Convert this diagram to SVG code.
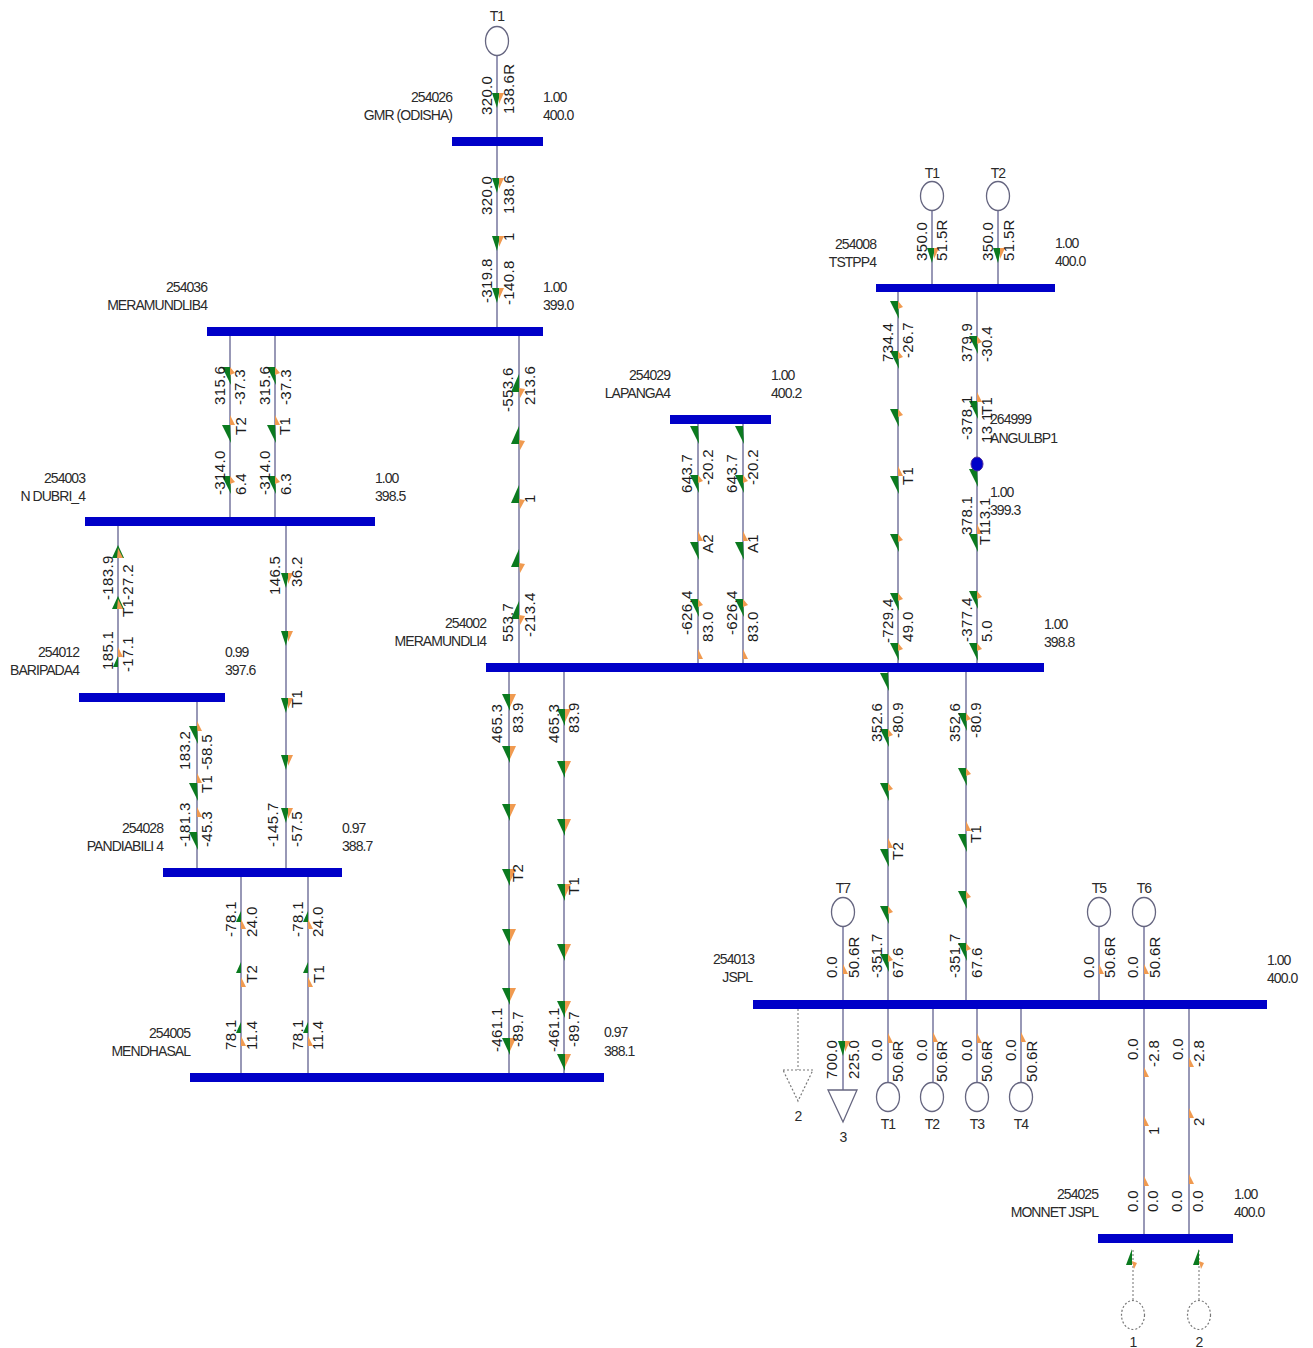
<svg xmlns="http://www.w3.org/2000/svg" xmlns:xlink="http://www.w3.org/1999/xlink" width="1313" height="1348" viewBox="0 0 1313 1348">
<style>
text{font-family:"Liberation Sans",Arial,sans-serif;fill:#2a2a2a}
.l{font-size:14px;letter-spacing:-.95px}
.e{text-anchor:end}
.m{text-anchor:middle}
.v{font-size:15px;letter-spacing:.35px;fill:#1c1c1c}
.bus{fill:#0000c8}
.ln{stroke:#77779f;stroke-width:1.5;fill:none}
.dot{stroke:#888;stroke-width:1.2;stroke-dasharray:2 2;fill:none}
.gen{fill:#fff;stroke:#666680;stroke-width:1.3}
.gd{fill:#fff;stroke:#777;stroke-width:1.2;stroke-dasharray:2 2}
.g{fill:#0b7a1f}
.o{fill:#f09a50}
</style>
<defs>
<g id="d"><path class="g" d="M-8,-9L0,-9L1,9z"/><path class="o" d="M0,-9L5,-3L0,-1z"/></g>
<g id="dl"><path class="g" d="M-8,-9L0,-9L1,9z"/></g>
<g id="u"><path class="g" d="M-8,9L0,9L0,-9z"/><path class="o" d="M0,5L6,6L1,15z"/></g>
<g id="c"><path class="g" d="M-5,-7L3,-7L0,8z"/><path class="o" d="M2,-7L7,-7L2,4z"/></g>
<g id="b"><path class="g" d="M-7,-9L1,-9L1,8z"/><path class="o" d="M1,-9L7,-9L1,4z"/></g>
<g id="cu"><path class="g" d="M-6,6L0,-7L6,6z"/><path class="o" d="M0,-4L5,6L-1,6z"/></g>
<g id="s"><path class="g" d="M-5,5L0,-6L0,5z"/></g>
<g id="o"><path class="o" d="M0,-6L5,4L0,4z"/></g>
<g id="mu"><path class="g" d="M-6,8L0,-8L0,8z"/><path class="o" d="M0,4L5,6L2,12z"/></g>
</defs>
<rect width="1313" height="1348" fill="#fff"/>
<g id="connectors">
<path class="ln" d="M497,55V327M230,336V517M275,336V517M519,336V663M118,526V693M286,526V868M197,702V868M241,877V1073M308,877V1073M509,672V1073M564,672V1073M698,424V663M743,424V663M898,292V663M977,292V663M888,672V1000M966,672V1000M932,211V284M998,211V284M843,926V1000M1099,926V1000M1144,926V1000M843,1009V1090M888,1009V1082M933,1009V1082M977,1009V1082M1021,1009V1082M1144,1009V1234M1189,1009V1234"/>
<path class="dot" d="M798,1009V1070M1133,1250V1301M1199,1250V1301"/>
<g id="flow-marks">
<use href="#c" x="497" y="100"/><use href="#c" x="497" y="185"/><use href="#c" x="497" y="243"/><use href="#c" x="497" y="295"/>
<use href="#c" x="932" y="255"/><use href="#c" x="998" y="255"/>
<use href="#d" x="230" y="376"/><use href="#o" x="230" y="421"/><use href="#dl" x="230" y="434"/><use href="#d" x="230" y="485"/>
<use href="#d" x="275" y="376"/><use href="#o" x="275" y="421"/><use href="#dl" x="275" y="434"/><use href="#d" x="275" y="485"/>
<use href="#cu" x="118" y="552"/><use href="#cu" x="118" y="603"/><use href="#o" x="118" y="653"/><use href="#s" x="118" y="662"/>
<use href="#c" x="286" y="580"/><use href="#c" x="286" y="638"/><use href="#c" x="286" y="705"/><use href="#c" x="286" y="762"/><use href="#c" x="286" y="815"/>
<use href="#o" x="197" y="727"/><use href="#dl" x="197" y="735"/><use href="#o" x="197" y="779"/><use href="#dl" x="197" y="792"/><use href="#o" x="197" y="813"/><use href="#dl" x="197" y="841"/>
<use href="#s" x="241" y="917"/><use href="#o" x="241" y="925"/><use href="#s" x="241" y="968"/><use href="#o" x="241" y="983"/><use href="#s" x="241" y="1028"/><use href="#o" x="241" y="1042"/>
<use href="#s" x="308" y="917"/><use href="#o" x="308" y="925"/><use href="#s" x="308" y="968"/><use href="#o" x="308" y="983"/><use href="#s" x="308" y="1028"/><use href="#o" x="308" y="1042"/>
<use href="#u" x="519" y="383"/><use href="#u" x="519" y="435"/><use href="#u" x="519" y="494"/><use href="#u" x="519" y="558"/><use href="#u" x="519" y="610"/>
<use href="#dl" x="698" y="435"/><use href="#d" x="698" y="484"/><use href="#o" x="698" y="537"/><use href="#dl" x="698" y="551"/><use href="#d" x="698" y="608"/><use href="#o" x="698" y="655"/>
<use href="#dl" x="743" y="435"/><use href="#d" x="743" y="484"/><use href="#o" x="743" y="537"/><use href="#dl" x="743" y="551"/><use href="#d" x="743" y="608"/><use href="#o" x="743" y="655"/>
<use href="#d" x="898" y="310"/><use href="#d" x="898" y="360"/><use href="#d" x="898" y="418"/><use href="#o" x="898" y="472"/><use href="#dl" x="898" y="485"/><use href="#d" x="898" y="543"/><use href="#d" x="898" y="602"/><use href="#d" x="898" y="652"/>
<use href="#d" x="977" y="345"/><use href="#o" x="977" y="398"/><use href="#dl" x="977" y="410"/><use href="#dl" x="977" y="478"/><use href="#o" x="977" y="530"/><use href="#dl" x="977" y="543"/><use href="#d" x="977" y="600"/><use href="#d" x="977" y="652"/>
<use href="#b" x="509" y="703"/><use href="#b" x="509" y="755"/><use href="#b" x="509" y="813"/><use href="#b" x="509" y="878"/><use href="#b" x="509" y="938"/><use href="#b" x="509" y="997"/><use href="#b" x="509" y="1047"/>
<use href="#b" x="564" y="718"/><use href="#b" x="564" y="770"/><use href="#b" x="564" y="828"/><use href="#b" x="564" y="893"/><use href="#b" x="564" y="953"/><use href="#b" x="564" y="1010"/><use href="#b" x="564" y="1063"/>
<use href="#dl" x="888" y="682"/><use href="#d" x="888" y="738"/><use href="#d" x="888" y="792"/><use href="#o" x="888" y="844"/><use href="#dl" x="888" y="858"/><use href="#d" x="888" y="915"/><use href="#d" x="888" y="963"/>
<use href="#d" x="966" y="722"/><use href="#d" x="966" y="777"/><use href="#o" x="966" y="827"/><use href="#dl" x="966" y="843"/><use href="#d" x="966" y="900"/><use href="#d" x="966" y="952"/>
<use href="#o" x="843" y="970"/><use href="#o" x="1099" y="970"/><use href="#o" x="1144" y="970"/>
<use href="#c" x="843" y="1048"/><use href="#o" x="888" y="1039"/><use href="#o" x="933" y="1038"/><use href="#o" x="977" y="1039"/><use href="#o" x="1021" y="1038"/>
<use href="#o" x="1144" y="1073"/><use href="#o" x="1144" y="1122"/><use href="#o" x="1144" y="1182"/><use href="#o" x="1189" y="1063"/><use href="#o" x="1189" y="1114"/><use href="#o" x="1189" y="1180"/>
<use href="#mu" x="1132" y="1257"/><use href="#mu" x="1199" y="1257"/>
</g>
<g id="flow-values">
<text class="v" transform="translate(492,115) rotate(-90)">320.0</text><text class="v" transform="translate(514,114) rotate(-90)">138.6R</text>
<text class="v" transform="translate(492,215) rotate(-90)">320.0</text><text class="v" transform="translate(514,214) rotate(-90)">138.6</text><text class="v" transform="translate(514,241) rotate(-90)">1</text>
<text class="v" transform="translate(492,303) rotate(-90)">-319.8</text><text class="v" transform="translate(514,305) rotate(-90)">-140.8</text>
<text class="v" transform="translate(225,405) rotate(-90)">315.6</text><text class="v" transform="translate(245,405) rotate(-90)">-37.3</text><text class="v" transform="translate(246,435) rotate(-90)">T2</text><text class="v" transform="translate(225,495) rotate(-90)">-314.0</text><text class="v" transform="translate(246,495) rotate(-90)">6.4</text>
<text class="v" transform="translate(270,405) rotate(-90)">315.6</text><text class="v" transform="translate(291,405) rotate(-90)">-37.3</text><text class="v" transform="translate(290,435) rotate(-90)">T1</text><text class="v" transform="translate(270,495) rotate(-90)">-314.0</text><text class="v" transform="translate(291,495) rotate(-90)">6.3</text>
<text class="v" transform="translate(113,600) rotate(-90)">-183.9</text><text class="v" transform="translate(133,600) rotate(-90)">-27.2</text><text class="v" transform="translate(133,617) rotate(-90)">T1</text><text class="v" transform="translate(113,670) rotate(-90)">185.1</text><text class="v" transform="translate(133,672) rotate(-90)">-17.1</text>
<text class="v" transform="translate(280,595) rotate(-90)">146.5</text><text class="v" transform="translate(302,587) rotate(-90)">36.2</text><text class="v" transform="translate(302,708) rotate(-90)">T1</text><text class="v" transform="translate(278,847) rotate(-90)">-145.7</text><text class="v" transform="translate(302,847) rotate(-90)">-57.5</text>
<text class="v" transform="translate(190,770) rotate(-90)">183.2</text><text class="v" transform="translate(212,770) rotate(-90)">-58.5</text><text class="v" transform="translate(212,793) rotate(-90)">T1</text><text class="v" transform="translate(190,847) rotate(-90)">-181.3</text><text class="v" transform="translate(212,847) rotate(-90)">-45.3</text>
<text class="v" transform="translate(236,937) rotate(-90)">-78.1</text><text class="v" transform="translate(257,937) rotate(-90)">24.0</text><text class="v" transform="translate(257,983) rotate(-90)">T2</text><text class="v" transform="translate(236,1050) rotate(-90)">78.1</text><text class="v" transform="translate(257,1050) rotate(-90)">11.4</text>
<text class="v" transform="translate(303,937) rotate(-90)">-78.1</text><text class="v" transform="translate(323,937) rotate(-90)">24.0</text><text class="v" transform="translate(324,983) rotate(-90)">T1</text><text class="v" transform="translate(303,1050) rotate(-90)">78.1</text><text class="v" transform="translate(323,1050) rotate(-90)">11.4</text>
<text class="v" transform="translate(513,412) rotate(-90)">-553.6</text><text class="v" transform="translate(535,405) rotate(-90)">213.6</text><text class="v" transform="translate(535,503) rotate(-90)">1</text><text class="v" transform="translate(513,642) rotate(-90)">553.7</text><text class="v" transform="translate(535,637) rotate(-90)">-213.4</text>
<text class="v" transform="translate(692,493) rotate(-90)">643.7</text><text class="v" transform="translate(713,485) rotate(-90)">-20.2</text><text class="v" transform="translate(713,553) rotate(-90)">A2</text><text class="v" transform="translate(692,635) rotate(-90)">-626.4</text><text class="v" transform="translate(713,642) rotate(-90)">83.0</text>
<text class="v" transform="translate(737,493) rotate(-90)">643.7</text><text class="v" transform="translate(758,485) rotate(-90)">-20.2</text><text class="v" transform="translate(758,553) rotate(-90)">A1</text><text class="v" transform="translate(737,635) rotate(-90)">-626.4</text><text class="v" transform="translate(758,642) rotate(-90)">83.0</text>
<text class="v" transform="translate(502,743) rotate(-90)">465.3</text><text class="v" transform="translate(523,733) rotate(-90)">83.9</text><text class="v" transform="translate(523,882) rotate(-90)">T2</text><text class="v" transform="translate(502,1052) rotate(-90)">-461.1</text><text class="v" transform="translate(523,1047) rotate(-90)">-89.7</text>
<text class="v" transform="translate(559,743) rotate(-90)">465.3</text><text class="v" transform="translate(579,733) rotate(-90)">83.9</text><text class="v" transform="translate(579,895) rotate(-90)">T1</text><text class="v" transform="translate(559,1052) rotate(-90)">-461.1</text><text class="v" transform="translate(579,1047) rotate(-90)">-89.7</text>
<text class="v" transform="translate(893,362) rotate(-90)">734.4</text><text class="v" transform="translate(913,358) rotate(-90)">-26.7</text><text class="v" transform="translate(913,485) rotate(-90)">T1</text><text class="v" transform="translate(893,643) rotate(-90)">-729.4</text><text class="v" transform="translate(913,642) rotate(-90)">49.0</text>
<text class="v" transform="translate(972,362) rotate(-90)">379.9</text><text class="v" transform="translate(992,362) rotate(-90)">-30.4</text><text class="v" transform="translate(992,415) rotate(-90)">T1</text><text class="v" transform="translate(972,440) rotate(-90)">-378.1</text><text class="v" transform="translate(992,443) rotate(-90)">13.1</text>
<text class="v" transform="translate(972,535) rotate(-90)">378.1</text><text class="v" transform="translate(990,528) rotate(-90)">13.1</text><text class="v" transform="translate(990,545) rotate(-90)">T1</text><text class="v" transform="translate(972,642) rotate(-90)">-377.4</text><text class="v" transform="translate(992,642) rotate(-90)">5.0</text>
<text class="v" transform="translate(882,742) rotate(-90)">352.6</text><text class="v" transform="translate(903,738) rotate(-90)">-80.9</text><text class="v" transform="translate(903,860) rotate(-90)">T2</text><text class="v" transform="translate(882,978) rotate(-90)">-351.7</text><text class="v" transform="translate(903,978) rotate(-90)">67.6</text>
<text class="v" transform="translate(960,742) rotate(-90)">352.6</text><text class="v" transform="translate(981,738) rotate(-90)">-80.9</text><text class="v" transform="translate(981,843) rotate(-90)">T1</text><text class="v" transform="translate(960,978) rotate(-90)">-351.7</text><text class="v" transform="translate(982,978) rotate(-90)">67.6</text>
<text class="v" transform="translate(837,978) rotate(-90)">0.0</text><text class="v" transform="translate(859,978) rotate(-90)">50.6R</text><text class="v" transform="translate(837,1079) rotate(-90)">700.0</text><text class="v" transform="translate(859,1079) rotate(-90)">225.0</text>
<text class="v" transform="translate(882,1061) rotate(-90)">0.0</text><text class="v" transform="translate(903,1082) rotate(-90)">50.6R</text>
<text class="v" transform="translate(927,1061) rotate(-90)">0.0</text><text class="v" transform="translate(947,1082) rotate(-90)">50.6R</text>
<text class="v" transform="translate(972,1061) rotate(-90)">0.0</text><text class="v" transform="translate(992,1082) rotate(-90)">50.6R</text>
<text class="v" transform="translate(1016,1061) rotate(-90)">0.0</text><text class="v" transform="translate(1037,1082) rotate(-90)">50.6R</text>
<text class="v" transform="translate(1094,978) rotate(-90)">0.0</text><text class="v" transform="translate(1115,978) rotate(-90)">50.6R</text>
<text class="v" transform="translate(1138,978) rotate(-90)">0.0</text><text class="v" transform="translate(1160,978) rotate(-90)">50.6R</text>
<text class="v" transform="translate(1138,1060) rotate(-90)">0.0</text><text class="v" transform="translate(1159,1067) rotate(-90)">-2.8</text><text class="v" transform="translate(1159,1135) rotate(-90)">1</text>
<text class="v" transform="translate(1183,1060) rotate(-90)">0.0</text><text class="v" transform="translate(1204,1067) rotate(-90)">-2.8</text><text class="v" transform="translate(1204,1126) rotate(-90)">2</text>
<text class="v" transform="translate(1138,1212) rotate(-90)">0.0</text><text class="v" transform="translate(1158,1212) rotate(-90)">0.0</text><text class="v" transform="translate(1182,1212) rotate(-90)">0.0</text><text class="v" transform="translate(1203,1212) rotate(-90)">0.0</text>
<text class="v" transform="translate(927,261) rotate(-90)">350.0</text><text class="v" transform="translate(947,261) rotate(-90)">51.5R</text><text class="v" transform="translate(993,261) rotate(-90)">350.0</text><text class="v" transform="translate(1014,261) rotate(-90)">51.5R</text>
</g>
</g>
<g id="bus-254026"><rect class="bus" x="452" y="137" width="91" height="9"/><text class="l e" x="452" y="102">254026</text><text class="l e" x="452" y="120">GMR (ODISHA)</text><text class="l" x="543" y="102">1.00</text><text class="l" x="543" y="120">400.0</text></g>
<g id="bus-254036"><rect class="bus" x="207" y="327" width="336" height="9"/><text class="l e" x="207" y="292">254036</text><text class="l e" x="207" y="310">MERAMUNDLIB4</text><text class="l" x="543" y="292">1.00</text><text class="l" x="543" y="310">399.0</text></g>
<g id="bus-254003"><rect class="bus" x="85" y="517" width="290" height="9"/><text class="l e" x="85" y="483">254003</text><text class="l e" x="85" y="501">N DUBRI_4</text><text class="l" x="375" y="483">1.00</text><text class="l" x="375" y="501">398.5</text></g>
<g id="bus-254012"><rect class="bus" x="79" y="693" width="146" height="9"/><text class="l e" x="79" y="657">254012</text><text class="l e" x="79" y="675">BARIPADA4</text><text class="l" x="225" y="657">0.99</text><text class="l" x="225" y="675">397.6</text></g>
<g id="bus-254028"><rect class="bus" x="163" y="868" width="179" height="9"/><text class="l e" x="163" y="833">254028</text><text class="l e" x="163" y="851">PANDIABILI 4</text><text class="l" x="342" y="833">0.97</text><text class="l" x="342" y="851">388.7</text></g>
<g id="bus-254005"><rect class="bus" x="190" y="1073" width="414" height="9"/><text class="l e" x="190" y="1038">254005</text><text class="l e" x="190" y="1056">MENDHASAL</text><text class="l" x="604" y="1037">0.97</text><text class="l" x="604" y="1056">388.1</text></g>
<g id="bus-254002"><rect class="bus" x="486" y="663" width="558" height="9"/><text class="l e" x="486" y="628">254002</text><text class="l e" x="486" y="646">MERAMUNDLI4</text><text class="l" x="1044" y="629">1.00</text><text class="l" x="1044" y="647">398.8</text></g>
<g id="bus-254029"><rect class="bus" x="670" y="415" width="101" height="9"/><text class="l e" x="670" y="380">254029</text><text class="l e" x="670" y="398">LAPANGA4</text><text class="l" x="771" y="380">1.00</text><text class="l" x="771" y="398">400.2</text></g>
<g id="bus-254008"><rect class="bus" x="876" y="284" width="179" height="8"/><text class="l e" x="876" y="249">254008</text><text class="l e" x="876" y="267">TSTPP4</text><text class="l" x="1055" y="248">1.00</text><text class="l" x="1055" y="266">400.0</text></g>
<g id="bus-254013"><rect class="bus" x="753" y="1000" width="514" height="9"/><text class="l e" x="754" y="964">254013</text><text class="l e" x="752" y="982">JSPL</text><text class="l" x="1267" y="965">1.00</text><text class="l" x="1267" y="983">400.0</text></g>
<g id="bus-254025"><rect class="bus" x="1098" y="1234" width="135" height="9"/><text class="l e" x="1098" y="1199">254025</text><text class="l e" x="1098" y="1217">MONNET JSPL</text><text class="l" x="1234" y="1199">1.00</text><text class="l" x="1234" y="1217">400.0</text></g>
<g id="bus-264999"><ellipse cx="977" cy="464" rx="6" ry="7" fill="#0000c8" stroke="#4a2a9a"/><text class="l" x="990" y="424">264999</text><text class="l" x="990" y="443">ANGULBP1</text><text class="l" x="990" y="497">1.00</text><text class="l" x="990" y="515">399.3</text></g>
<g id="gen-gmr-t1"><ellipse class="gen" cx="497" cy="41" rx="11.5" ry="14.5"/><text class="l m" x="497" y="21">T1</text></g>
<g id="gen-tstpp-t1"><ellipse class="gen" cx="932" cy="196" rx="11.5" ry="14.5"/><text class="l m" x="932" y="178">T1</text></g>
<g id="gen-tstpp-t2"><ellipse class="gen" cx="998" cy="196" rx="11.5" ry="14.5"/><text class="l m" x="998" y="178">T2</text></g>
<g id="gen-jspl-t7"><ellipse class="gen" cx="843" cy="912" rx="11.5" ry="14.5"/><text class="l m" x="843" y="893">T7</text></g>
<g id="gen-jspl-t5"><ellipse class="gen" cx="1099" cy="912" rx="11.5" ry="14.5"/><text class="l m" x="1099" y="893">T5</text></g>
<g id="gen-jspl-t6"><ellipse class="gen" cx="1144" cy="912" rx="11.5" ry="14.5"/><text class="l m" x="1144" y="893">T6</text></g>
<g id="gen-jspl-t1"><ellipse class="gen" cx="888" cy="1097" rx="11.5" ry="14.5"/><text class="l m" x="888" y="1129">T1</text></g>
<g id="gen-jspl-t2"><ellipse class="gen" cx="932" cy="1097" rx="11.5" ry="14.5"/><text class="l m" x="932" y="1129">T2</text></g>
<g id="gen-jspl-t3"><ellipse class="gen" cx="977" cy="1097" rx="11.5" ry="14.5"/><text class="l m" x="977" y="1129">T3</text></g>
<g id="gen-jspl-t4"><ellipse class="gen" cx="1021" cy="1097" rx="11.5" ry="14.5"/><text class="l m" x="1021" y="1129">T4</text></g>
<g id="load-2"><path class="gd" d="M783,1070H813L798,1101z"/><text class="l m" x="798" y="1121">2</text></g>
<g id="load-3"><path class="gen" d="M828,1090H857L843,1122z"/><text class="l m" x="843" y="1142">3</text></g>
<g id="gen-monnet-1"><ellipse class="gd" cx="1133" cy="1315" rx="11.5" ry="14.5"/><text class="l m" x="1133" y="1347">1</text></g>
<g id="gen-monnet-2"><ellipse class="gd" cx="1199" cy="1315" rx="11.5" ry="14.5"/><text class="l m" x="1199" y="1347">2</text></g>
</svg>
